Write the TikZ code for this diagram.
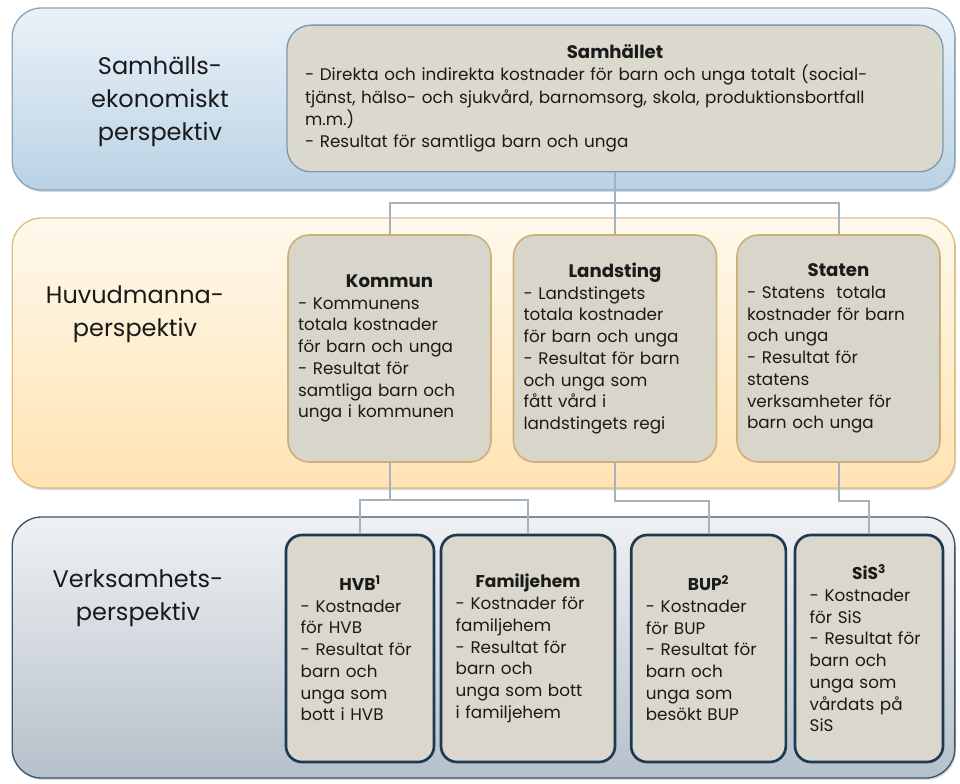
\documentclass[tikz,border=0pt]{standalone}
\usepackage{fontspec}
\setmainfont{Poppins}
\usetikzlibrary{positioning,shadows,shadings,calc}
\setlength\parindent{0pt}

\definecolor{blueTop}{HTML}{EAF2F9}
\definecolor{blueBot}{HTML}{BAD2E4}
\definecolor{blueLine}{HTML}{8AA6BA}
\definecolor{topFill}{HTML}{DBD9CD}
\definecolor{topLine}{HTML}{7C9AAD}
\definecolor{orTop}{HTML}{FEF9EC}
\definecolor{orBot}{HTML}{FFE3B2}
\definecolor{orLine}{HTML}{DFBE84}
\definecolor{midFill}{HTML}{D8D6CA}
\definecolor{midLine}{HTML}{CFAF78}
\definecolor{grTop}{HTML}{EFF1F3}
\definecolor{grBot}{HTML}{B6C0CA}
\definecolor{grLine}{HTML}{3D5568}
\definecolor{botFill}{HTML}{DAD8CC}
\definecolor{botLine}{HTML}{1D3A52}
\definecolor{connLine}{HTML}{A4B3BD}
\definecolor{ink}{HTML}{1A1A1A}

\newcommand\boxhead[1]{{\centering\fontsize{13.6}{17}\selectfont\bfseries #1\par}\raggedright}
\newcommand\smallhead[1]{{\centering\fontsize{12.8}{16.5}\selectfont\bfseries #1\par}\raggedright}

\tikzset{
  band/.style={line width=1pt, rounded corners=22pt, minimum width=707pt, inner sep=0pt,
    drop shadow={shadow xshift=1pt, shadow yshift=-1.5pt, opacity=0.3}},
  blueband/.style={band, draw=blueLine, top color=blueTop, bottom color=blueBot},
  orband/.style={band, draw=orLine, top color=orTop, bottom color=orBot},
  grband/.style={band, draw=grLine, top color=grTop, bottom color=grBot},
  lbl/.style={align=center, text=ink, font=\fontsize{18}{24.75}\selectfont},
  boxtext/.style={text=ink, font=\fontsize{12.6}{16.3}\selectfont},
  topbox/.style={boxtext, draw=topLine, fill=topFill, line width=1pt, rounded corners=18pt,
    minimum height=110pt, text width=465pt, inner xsep=13.5pt,
    font=\fontsize{12.6}{16.8}\selectfont},
  midbox/.style={boxtext, draw=midLine, fill=midFill, line width=1.2pt, rounded corners=16pt,
    minimum height=170.25pt, text width=137.25pt, inner xsep=7.5pt},
  botbox/.style={boxtext, draw=botLine, fill=botFill, line width=2pt, rounded corners=12pt,
    minimum height=170.25pt, inner xsep=11pt},
  conn/.style={draw=connLine, line width=1.5pt}
}

\begin{document}
\begin{tikzpicture}[x=0.75pt, y=-0.75pt]
\useasboundingbox (0,0) rectangle (960,784);

% bands
\node[blueband, minimum height=136.5pt] (samhband) at (483.5,99) {};
\node[orband, minimum height=202.5pt] (huvband) at (483.5,353) {};
\node[grband, minimum height=195.75pt] (verkband) at (483.5,647.5) {};

% perspective labels
\node[lbl] (lblsamh) at (160,102) {Samhälls-\\ekonomiskt\\perspektiv};
\node[lbl] (lblhuv) at (135,314) {Huvudmanna-\\perspektiv};
\node[lbl] (lblverk) at (138,598) {Verksamhets-\\perspektiv};

% samhallet
\node[topbox] (samh) at (615,98.5) {\boxhead{Samhället}
  - Direkta och indirekta kostnader för barn och unga totalt (social-\\
  tjänst, hälso- och sjukvård, barnomsorg, skola, produktionsbortfall\\
  m.m.)\\
  - Resultat för samtliga barn och unga};

% huvudman
\node[midbox] (kommun) at (389.5,348.5) {\boxhead{Kommun}
  - Kommunens\\ totala kostnader\\ för barn och unga\\ - Resultat för\\ samtliga barn och\\ unga i kommunen};
\node[midbox] (landsting) at (615,348.5) {\boxhead{Landsting}
  - Landstingets\\ totala kostnader\\ för barn och unga\\ - Resultat för barn\\ och unga som\\ fått vård i\\ landstingets regi};
\node[midbox] (staten) at (838.5,348.5) {\boxhead{Staten}
  - Statens~ totala\\ kostnader för barn\\ och unga\\ - Resultat för\\ statens\\ verksamheter för\\ barn och unga};

% verksamhet
\node[botbox, text width=89pt] (hvb) at (360,648.5) {\smallhead{HVB\textsuperscript{1}}
  - Kostnader\\ för HVB\\ - Resultat för\\ barn och\\ unga som\\ bott i HVB};
\node[botbox, text width=108.5pt] (famil) at (528,648.5) {\smallhead{Familjehem}
  - Kostnader för\\ familjehem\\ - Resultat för\\ barn och\\ unga som bott\\ i familjehem};
\node[botbox, text width=94pt] (bup) at (708.5,648.5) {\smallhead{BUP\textsuperscript{2}}
  - Kostnader\\ för BUP\\ - Resultat för\\ barn och\\ unga som\\ besökt BUP};
\node[botbox, text width=89pt] (sis) at (869,648.5) {\smallhead{SiS\textsuperscript{3}}
  - Kostnader\\ för SiS\\ - Resultat för\\ barn och\\ unga som\\ vårdats på\\ SiS};

% connectors
\coordinate (busA) at (615,203);
\coordinate (busB) at (389.5,500);
\draw[conn] (samh.south) -- (busA);
\draw[conn] (kommun.north) |- (busA) -| (staten.north);
\draw[conn] (busA) -- (landsting.north);
\draw[conn] (kommun.south) -- (busB);
\draw[conn] (hvb.north) |- (busB) -| (famil.north);
\draw[conn] (landsting.south) -- ++(0,38) -| (bup.north);
\draw[conn] (staten.south) -- ++(0,38) -| (sis.north);
\end{tikzpicture}
\end{document}
